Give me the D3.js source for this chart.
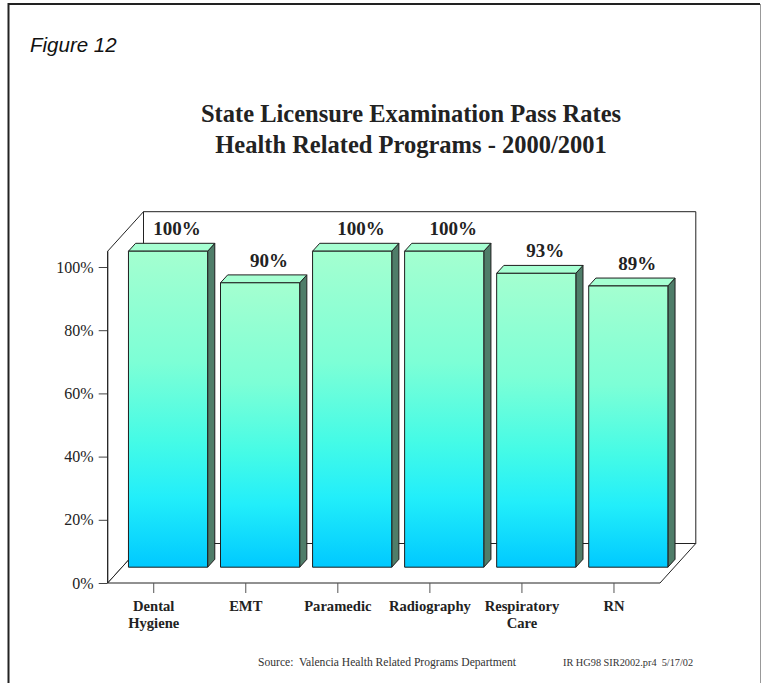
<!DOCTYPE html>
<html>
<head>
<meta charset="utf-8">
<script src="https://cdn.jsdelivr.net/npm/d3@7"></script>
<style>
  html, body { margin: 0; padding: 0; background: #fff; }
  svg { display: block; }
</style>
</head>
<body>
<script>
// Pass rates by program
const categories = ["Dental Hygiene", "EMT", "Paramedic", "Radiography", "Respiratory Care", "RN"];
const passRates = [100, 90, 100, 100, 93, 89];
const yTicks = [0, 20, 40, 60, 80, 100];
const titleLines = ["State Licensure Examination Pass Rates", "Health Related Programs - 2000/2001"];
const figureLabel = "Figure 12";
const sourceNote = "Source:  Valencia Health Related Programs Department";
const fileNote = "IR HG98 SIR2002.pr4  5/17/02";

const SERIF = "'Liberation Serif', 'Times New Roman', serif";
const W = 761, H = 683;
const svg = d3.select("body").append("svg").attr("width", W).attr("height", H);

// page frame
const frame = svg.append("g");
frame.append("line").attr("x1", 8.5).attr("x2", 8.5).attr("y1", 3).attr("y2", H).attr("stroke", "#222").attr("stroke-width", 2);
frame.append("line").attr("x1", 8).attr("x2", 760).attr("y1", 4).attr("y2", 4).attr("stroke", "#222").attr("stroke-width", 2);
frame.append("line").attr("x1", 760.5).attr("x2", 760.5).attr("y1", 4).attr("y2", H).attr("stroke", "#999").attr("stroke-width", 1);

svg.append("text").attr("x", 30).attr("y", 52)
  .attr("font-family", "'Liberation Sans', Arial, sans-serif").attr("font-style", "italic")
  .attr("font-size", 20.5).attr("fill", "#111").text(figureLabel);

svg.append("g").selectAll("text").data(titleLines).join("text")
  .attr("x", 411).attr("y", (d, i) => 122 + i * 31)
  .attr("text-anchor", "middle")
  .attr("font-family", SERIF).attr("font-weight", "bold")
  .attr("font-size", 24.5).attr("fill", "#222").text(d => d);

// plot geometry (front plane) and depth offset
const x0 = 107.7, x1 = 660, yBase = 583;
const DX = 35.8, DY = -39.5;
const yMax = 105;

const x = d3.scaleBand().domain(categories).range([x0, x1]).paddingInner(0.14).paddingOuter(0.07);
const xc = d3.scaleBand().domain(categories).range([x0, x1]);
const y = d3.scaleLinear().domain([0, 100]).range([yBase, 267]);

const P = (px, py, f) => [px + DX * f, py + DY * f];
const poly = pts => pts.map(p => p.join(",")).join(" ");

// 3D box: left wall, floor, back wall
const box = svg.append("g").attr("fill", "#fff").attr("stroke", "#222").attr("stroke-width", 1);
const yTop = y(yMax);
box.append("polygon").attr("points", poly([P(x0, yTop, 0), P(x0, yTop, 1), P(x0, yBase, 1), P(x0, yBase, 0)]));
box.append("polygon").attr("points", poly([P(x0, yBase, 0), P(x1, yBase, 0), P(x1, yBase, 1), P(x0, yBase, 1)]));
box.append("polygon").attr("points", poly([P(x0, yTop, 1), P(x1, yTop, 1), P(x1, yBase, 1), P(x0, yBase, 1)]));

// y axis
const yAxis = d3.axisLeft(y).tickValues(yTicks).tickFormat(d => d + "%").tickSize(9).tickPadding(5);
const gy = svg.append("g").attr("transform", `translate(${x0},0)`).call(yAxis);
gy.select(".domain").remove();
gy.selectAll(".tick line").attr("stroke", "#444");
gy.selectAll(".tick text").attr("font-family", SERIF)
  .attr("font-size", 16).attr("fill", "#222");
svg.append("line").attr("x1", x0).attr("x2", x0).attr("y1", yTop).attr("y2", yBase)
  .attr("stroke", "#222").attr("stroke-width", 1);

// x axis ticks and wrapped labels
const xAxis = d3.axisBottom(xc).tickSize(10).tickFormat("");
const gx = svg.append("g").attr("transform", `translate(0,${yBase})`).call(xAxis);
gx.select(".domain").remove();
gx.selectAll(".tick line").attr("stroke", "#555");
const catText = svg.append("g").selectAll("text").data(categories).join("text")
  .attr("x", d => xc(d) + xc.bandwidth() / 2)
  .attr("y", 611)
  .attr("text-anchor", "middle")
  .attr("font-family", SERIF).attr("font-weight", "bold")
  .attr("font-size", 14.6).attr("fill", "#222");
catText.selectAll("tspan").data(d => d.split(" ")).join("tspan")
  .attr("x", function () { return d3.select(this.parentNode).attr("x"); })
  .attr("dy", (d, i) => i === 0 ? 0 : 17)
  .text(d => d);

// bar gradient
const defs = svg.append("defs");
const grad = defs.append("linearGradient").attr("id", "barFill").attr("x1", 0).attr("y1", 0).attr("x2", 0).attr("y2", 1);
[[0, "#a4ffd0"], [0.35, "#7dffd6"], [0.6, "#45fbe6"], [0.78, "#22eefa"], [1, "#00c9ff"]]
  .forEach(([o, c]) => grad.append("stop").attr("offset", o).attr("stop-color", c));

// bars sit between depth 0.4 and 0.6
const f0 = 0.4, f1 = 0.6;
const data = categories.map((c, i) => ({ c, v: passRates[i] }));
const bars = svg.append("g").selectAll("g").data(data).join("g")
  .attr("stroke", "#1e1e1e").attr("stroke-width", 1).attr("stroke-linejoin", "round");

bars.append("polygon").attr("fill", "#4f7d69")
  .attr("points", d => {
    const r = x(d.c) + x.bandwidth();
    return poly([P(r, y(d.v), f0), P(r, y(d.v), f1), P(r, y(0), f1), P(r, y(0), f0)]);
  });
bars.append("polygon").attr("fill", "#a6ffd2")
  .attr("points", d => {
    const l = x(d.c), r = l + x.bandwidth();
    return poly([P(l, y(d.v), f0), P(l, y(d.v), f1), P(r, y(d.v), f1), P(r, y(d.v), f0)]);
  });
bars.append("polygon").attr("fill", "url(#barFill)")
  .attr("points", d => {
    const l = x(d.c), r = l + x.bandwidth();
    return poly([P(l, y(d.v), f0), P(r, y(d.v), f0), P(r, y(0), f0), P(l, y(0), f0)]);
  });

// value labels
svg.append("g").selectAll("text").data(data).join("text")
  .attr("x", d => P(xc(d.c) + xc.bandwidth() / 2, 0, 0.65)[0])
  .attr("y", d => P(0, y(d.v), f1)[1] - 8)
  .attr("text-anchor", "middle")
  .attr("font-family", SERIF).attr("font-weight", "bold")
  .attr("font-size", 19).attr("fill", "#222")
  .text(d => d.v + "%");

// footer notes
const foot = svg.append("g").attr("font-family", SERIF).attr("fill", "#333");
foot.append("text").attr("x", 258).attr("y", 666).attr("font-size", 11.6).style("white-space", "pre").text(sourceNote);
foot.append("text").attr("x", 563).attr("y", 666).attr("font-size", 10.3).style("white-space", "pre").text(fileNote);
</script>
</body>
</html>
